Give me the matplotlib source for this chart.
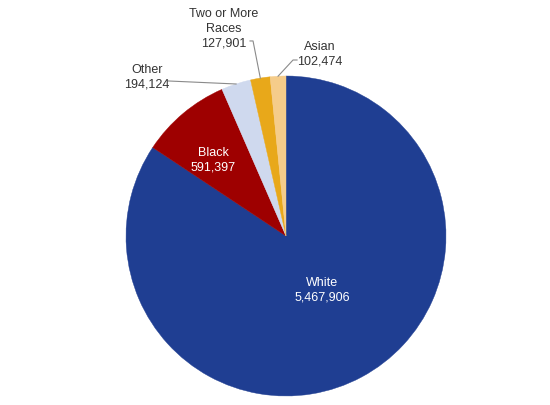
import matplotlib.pyplot as plt
import numpy as np

# population by race
races = ['White', 'Black', 'Other', 'Two or More\nRaces', 'Asian']
counts = [5467906, 591397, 194124, 127901, 102474]
colors = ['#1f3e92', '#9e0000', '#cfd9ee', '#e8a81a', '#f5cc8a']

plt.rcParams['font.family'] = ['Liberation Sans', 'DejaVu Sans']

fig = plt.figure(figsize=(5.5, 4.06), dpi=100)
# pie centre at px (286, 237), radius 160 px
ax = fig.add_axes([126 / 550, (406 - 397) / 406, 320 / 550, 320 / 406])
wedges, _ = ax.pie(counts, colors=colors, startangle=90, counterclock=False,
                   radius=1, wedgeprops={'linewidth': 0.3})
for w, c in zip(wedges, colors):
    w.set_edgecolor(c)
ax.set_xlim(-1, 1)
ax.set_ylim(-1, 1)
ax.set_aspect('equal')
ax.axis('off')


def lab(v):
    return f'{v:,}'


def edge(w):
    a = np.deg2rad((w.theta1 + w.theta2) / 2)
    return np.cos(a), np.sin(a)


txt = '#333333'
ls = 1.28
# inner labels
ax.text(0.225, -0.33, f'{races[0]}\n{lab(counts[0])}', color='white',
        ha='center', va='center', fontsize=9, linespacing=ls)
ax.text(-0.456, 0.48, f'{races[1]}\n{lab(counts[1])}', color='white',
        ha='center', va='center', fontsize=9, linespacing=ls)

# outer labels with leader lines
line_kw = dict(color='#8a8a8a', lw=0.8, clip_on=False)

ex, ey = edge(wedges[2])
ax.plot([-0.7375, ex], [0.969, ey], **line_kw)
ax.text(-0.869, 1.0, f'{races[2]}\n{lab(counts[2])}', color=txt,
        ha='center', va='center', fontsize=9, linespacing=ls, clip_on=False)

ex, ey = edge(wedges[3])
ax.plot([-0.225, -0.206, ex], [1.219, 1.219, ey], **line_kw)
ax.text(-0.3875, 1.30, f'{races[3]}\n{lab(counts[3])}', color=txt,
        ha='center', va='center', fontsize=9, linespacing=ls, clip_on=False)

ex, ey = edge(wedges[4])
ax.plot([0.069, 0.044, ex], [1.1, 1.1, ey], **line_kw)
ax.text(0.2125, 1.14, f'{races[4]}\n{lab(counts[4])}', color=txt,
        ha='center', va='center', fontsize=9, linespacing=ls, clip_on=False)

fig.savefig('out.png', dpi=100)
